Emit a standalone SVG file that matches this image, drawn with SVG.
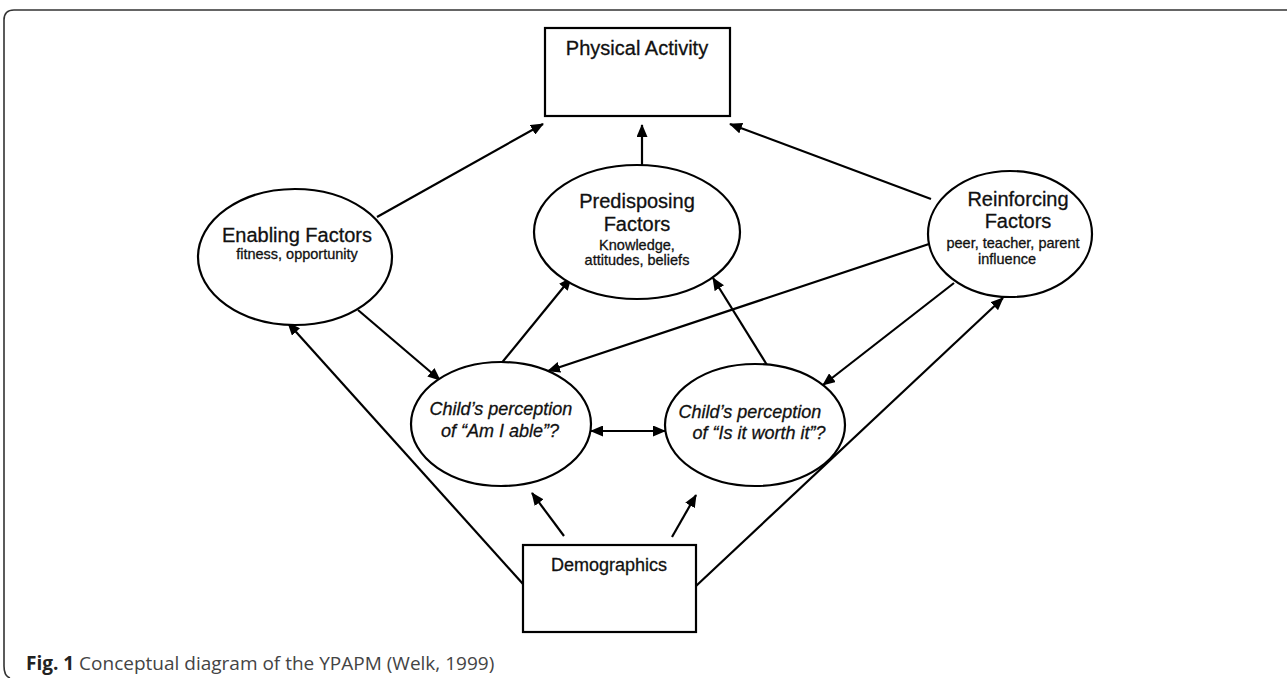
<svg xmlns="http://www.w3.org/2000/svg" width="1287" height="678" viewBox="0 0 1287 678">
<style>
.shape{fill:#fff;stroke:#000;stroke-width:2.2}
.t{font-family:"Liberation Sans",Arial,sans-serif;fill:#111;text-anchor:middle;stroke:#111;stroke-width:0.3}
.h{font-size:20px}
.s{font-size:14.5px}
.i{font-size:18px;font-style:italic}
.c{stroke:#000;stroke-width:2.2;fill:none}
.cap{font-family:"Open Sans","Noto Sans",sans-serif;font-size:19px;fill:#444}
</style>
<defs>
<marker id="ah" viewBox="0 0 13 11" refX="12" refY="5.5" markerWidth="13" markerHeight="11" markerUnits="userSpaceOnUse" orient="auto-start-reverse">
<path d="M0,0 L13,5.5 L0,11 Z" fill="#000"/>
</marker>
</defs>
<rect width="1287" height="678" fill="#fff"/>
<path d="M1290,10 H14 Q4,10 4,20 V666 Q4,676 10,678" fill="none" stroke="#333" stroke-width="1.6"/>
<g id="connectors">
<line class="c" x1="377" y1="217" x2="543" y2="124" marker-end="url(#ah)"/>
<line class="c" x1="642" y1="166" x2="642" y2="125" marker-end="url(#ah)"/>
<line class="c" x1="931" y1="199" x2="730" y2="124" marker-end="url(#ah)"/>
<line class="c" x1="358" y1="310" x2="440" y2="380" marker-end="url(#ah)"/>
<line class="c" x1="929" y1="244" x2="548" y2="371" marker-end="url(#ah)"/>
<line class="c" x1="954" y1="283" x2="823" y2="385" marker-end="url(#ah)"/>
<line class="c" x1="500" y1="365" x2="571" y2="278" marker-end="url(#ah)"/>
<line class="c" x1="767" y1="365" x2="713" y2="278" marker-end="url(#ah)"/>
<line class="c" x1="591" y1="431" x2="665" y2="431" marker-start="url(#ah)" marker-end="url(#ah)"/>
<line class="c" x1="564" y1="536" x2="532" y2="493" marker-end="url(#ah)"/>
<line class="c" x1="672" y1="537" x2="696" y2="495" marker-end="url(#ah)"/>
<line class="c" x1="523" y1="584" x2="288" y2="323" marker-end="url(#ah)"/>
<line class="c" x1="696" y1="586" x2="1003" y2="298" marker-end="url(#ah)"/>
</g>
<g id="physical-activity">
<rect class="shape" x="545" y="28" width="185" height="88"/>
<text class="t h" x="637" y="55">Physical Activity</text>
</g>
<g id="enabling">
<ellipse class="shape" cx="295" cy="257" rx="97" ry="68"/>
<text class="t h" x="297" y="242">Enabling Factors</text>
<text class="t s" x="297" y="259">fitness, opportunity</text>
</g>
<g id="predisposing">
<ellipse class="shape" cx="637" cy="232" rx="103" ry="67"/>
<text class="t h" x="637" y="208">Predisposing</text>
<text class="t h" x="637" y="231">Factors</text>
<text class="t s" x="637" y="250">Knowledge,</text>
<text class="t s" x="637" y="265">attitudes, beliefs</text>
</g>
<g id="reinforcing">
<ellipse class="shape" cx="1010" cy="234" rx="82" ry="63"/>
<text class="t h" x="1018" y="206">Reinforcing</text>
<text class="t h" x="1018" y="228">Factors</text>
<text class="t s" x="1013" y="248">peer, teacher, parent</text>
<text class="t s" x="1007" y="264">influence</text>
</g>
<g id="am-i-able">
<ellipse class="shape" cx="501" cy="424" rx="90" ry="62"/>
<text class="t i" x="501" y="415">Child’s perception</text>
<text class="t i" x="500" y="437">of “Am I able”?</text>
</g>
<g id="worth-it">
<ellipse class="shape" cx="755" cy="425" rx="90" ry="61"/>
<text class="t i" x="750" y="418">Child’s perception</text>
<text class="t i" x="759" y="439">of “Is it worth it”?</text>
</g>
<g id="demographics">
<rect class="shape" x="523" y="545" width="173" height="87"/>
<text class="t h" x="609" y="571" style="font-size:18px">Demographics</text>
</g>
<text class="cap" x="26" y="670"><tspan font-weight="bold" fill="#222">Fig. 1</tspan> Conceptual diagram of the YPAPM (Welk, 1999)</text>
</svg>
